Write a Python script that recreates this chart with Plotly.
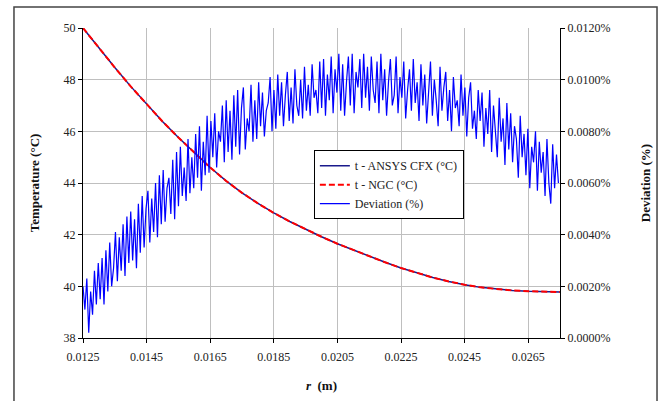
import numpy as np
import plotly.graph_objects as go

# ---- data ----
r_temp = [0.0125, 0.0130, 0.0135, 0.0140, 0.0145, 0.0150, 0.0155, 0.0160, 0.0165, 0.0170,
          0.0175, 0.0180, 0.0185, 0.0190, 0.0195, 0.0200, 0.0205, 0.0210, 0.0215, 0.0220,
          0.0225, 0.0230, 0.0235, 0.0240, 0.0245, 0.0250, 0.0255, 0.0260, 0.0265, 0.0270, 0.0275]
t_cfx = [50.00, 49.22, 48.47, 47.74, 47.04, 46.38, 45.76, 45.17, 44.60, 44.08,
         43.62, 43.21, 42.84, 42.51, 42.20, 41.92, 41.65, 41.40, 41.16, 40.93,
         40.71, 40.52, 40.34, 40.19, 40.06, 39.96, 39.89, 39.84, 39.81, 39.79, 39.78]
t_ngc = [50.00, 49.22, 48.47, 47.74, 47.04, 46.38, 45.76, 45.17, 44.60, 44.08,
         43.62, 43.21, 42.84, 42.51, 42.20, 41.92, 41.65, 41.40, 41.16, 40.93,
         40.71, 40.52, 40.34, 40.19, 40.06, 39.96, 39.89, 39.84, 39.81, 39.79, 39.78]

# deviation, in units of 0.0001 %
deviation_e4 = [
    20, 11, 23, 2, 18, 9, 26, 13,
    29, 15, 31, 13, 34, 18, 37, 20,
    27, 41, 22, 39, 26, 44, 24, 47, 29,
    49, 30, 46, 27, 52, 33, 55, 35,
    50, 57, 37, 54, 41, 60, 39, 63, 44,
    65, 45, 58, 62, 48, 69, 46, 72,
    51, 74, 55, 66, 53, 77, 56, 70,
    58, 79, 62, 82, 57, 76, 63, 86,
    64, 84, 70, 87, 66, 80, 76, 90, 68,
    92, 72, 88, 69, 94, 74, 96, 71,
    89, 97, 73, 85, 80, 98, 76, 92,
    77, 99, 82, 95, 78, 88, 91, 101, 80,
    96, 81, 102, 86, 99, 82, 94, 103,
    84, 97, 83, 104, 90, 86, 100, 85,
    105, 88, 98, 86, 106, 93, 96, 87, 107,
    89, 108, 86, 102, 92, 109, 87, 104,
    95, 110, 88, 106, 86, 99, 109, 90,
    110, 87, 103, 97, 108, 89, 110, 93, 105,
    88, 109, 96, 91, 107, 87, 110, 92,
    104, 86, 99, 108, 90, 94, 109, 87,
    101, 93, 107, 85, 96, 104, 88, 108, 91,
    99, 84, 106, 90, 102, 83, 95, 107,
    86, 100, 92, 82, 105, 88, 97, 103,
    84, 96, 80, 101, 89, 92, 82, 102,
    86, 97, 78, 93, 99, 81, 88, 77, 96,
    84, 95, 74, 89, 79, 96, 72, 90,
    80, 70, 93, 76, 85, 67, 91, 73,
    87, 68, 82, 77, 62, 86, 70, 79,
    63, 81, 58, 74, 68, 80, 57, 76, 64,
    72, 55, 77, 60, 52, 75, 58, 71, 60,
]
dev_r_start, dev_r_end = 0.0125, 0.02745
r_dev = np.linspace(dev_r_start, dev_r_end, len(deviation_e4))
dev_pct = np.array(deviation_e4) / 10000.0

x_ticks = [0.0125, 0.0145, 0.0165, 0.0185, 0.0205, 0.0225, 0.0245, 0.0265]

FONT = "Times New Roman, Liberation Serif, serif"

fig = go.Figure()
fig.add_trace(go.Scatter(x=r_temp, y=t_cfx, mode="lines", name="t - ANSYS CFX (°C)",
                         line=dict(color="#1a1a8c", width=1.5)))
fig.add_trace(go.Scatter(x=r_temp, y=t_ngc, mode="lines", name="t - NGC (°C)",
                         line=dict(color="#ff0000", width=2, dash="6px,3px")))
fig.add_trace(go.Scatter(x=r_dev, y=dev_pct, mode="lines", name="Deviation (%)",
                         yaxis="y2", line=dict(color="#0000ff", width=1.2)))

fig.update_layout(
    width=664, height=401,
    margin=dict(l=83, r=104, t=28, b=63),
    paper_bgcolor="white", plot_bgcolor="white",
    font=dict(family=FONT, size=11, color="#222"),
    showlegend=True,
    legend=dict(x=0.484, y=0.606, xanchor="left", yanchor="top",
                bgcolor="white", bordercolor="black", borderwidth=1,
                font=dict(family=FONT, size=12, color="#222"),
                tracegroupgap=0),
    xaxis=dict(range=[0.0125, 0.0275], tickvals=x_ticks, tickformat=".4f",
               automargin=False,
               showgrid=True, gridcolor="#bfbfbf", gridwidth=1,
               showline=True, linecolor="black", linewidth=1,
               ticks="outside", ticklen=4, tickcolor="black", zeroline=False,
               ticklabelstandoff=4,
               tickfont=dict(family=FONT, size=12, color="#222"),
               title=dict(text="<b><i>r</i>  (m)</b>", font=dict(family=FONT, size=13, color="#111"),
                          standoff=17)),
    yaxis=dict(range=[38, 50], dtick=2, automargin=False,
               showgrid=True, gridcolor="#bfbfbf", gridwidth=1,
               showline=True, linecolor="black", linewidth=1,
               ticks="outside", ticklen=4, tickcolor="black", zeroline=False,
               tickfont=dict(family=FONT, size=12, color="#222"),
               title=dict(text="<b>Temperature (°C)</b>", font=dict(family=FONT, size=13, color="#111"),
                          standoff=21)),
    yaxis2=dict(range=[0, 0.012], dtick=0.002, tickformat=".4f", ticksuffix="%",
                automargin=False,
                overlaying="y", side="right", showgrid=False,
                showline=True, linecolor="black", linewidth=1,
                ticks="outside", ticklen=4, tickcolor="black", zeroline=False,
                tickfont=dict(family=FONT, size=12, color="#222"),
                title=dict(text="<b>Deviation (%)</b>", font=dict(family=FONT, size=13, color="#111"),
                           standoff=31)),
)

# outer chart frame
fig.add_shape(type="rect", xref="paper", yref="paper",
              x0=-0.1447, x1=1.2034, y0=-0.23, y1=1.0677,
              line=dict(color="#444", width=1.5), fillcolor="rgba(0,0,0,0)", layer="below")

fig.write_html("out.html")
